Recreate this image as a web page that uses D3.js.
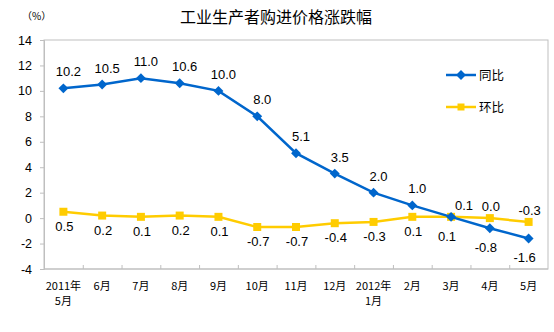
<!DOCTYPE html>
<html><head><meta charset="utf-8">
<script src="https://cdn.jsdelivr.net/npm/d3@7"></script>
<style>
html,body{margin:0;padding:0;background:#fff;}
svg{display:block;font-family:"Liberation Sans","Noto Sans CJK SC",Arial,sans-serif;}
</style></head>
<body><svg id="c" width="554" height="332"></svg>
<script>
// monthly change in purchase prices of industrial producers, %
const months = ["2011年\n5月","6月","7月","8月","9月","10月","11月","12月","2012年\n1月","2月","3月","4月","5月"];
const yoy = [10.2, 10.5, 11.0, 10.6, 10.0, 8.0, 5.1, 3.5, 2.0, 1.0, 0.1, -0.8, -1.6];
const mom = [0.5, 0.2, 0.1, 0.2, 0.1, -0.7, -0.7, -0.4, -0.3, 0.1, 0.1, 0.0, -0.3];
const yTicks = [-4, -2, 0, 2, 4, 6, 8, 10, 12, 14];
const seriesNames = ["同比", "环比"];

const svg = d3.select("#c");
const m = {left: 44, right: 548, top: 40, bottom: 269};
const BLUE = "#0066cc", YELLOW = "#ffcc00";
const CJK = "'Noto Sans CJK SC', sans-serif";
const LATIN = "'Liberation Sans', Arial, sans-serif";

// plain hyphen for negatives
const loc = d3.formatLocale({decimal: ".", thousands: ",", grouping: [3], currency: ["", ""], minus: "-"});
const fmtInt = loc.format("d");
const fmt = loc.format(".1f");

const x = d3.scaleBand().domain(months.map((d, i) => i)).range([m.left, m.right]);
const y = d3.scaleLinear().domain([-4, 14]).range([m.bottom, m.top]);
const cx = i => x(i) + x.bandwidth() / 2;

// plot frame
svg.append("rect").attr("x", m.left).attr("y", m.top)
  .attr("width", m.right - m.left).attr("height", m.bottom - m.top)
  .attr("fill", "none").attr("stroke", "#bfbfbf").attr("stroke-width", 1);

// y axis
const ya = svg.append("g").attr("transform", `translate(${m.left},0)`)
  .call(d3.axisLeft(y).tickValues(yTicks).tickSize(4).tickPadding(8).tickFormat(fmtInt));
ya.select(".domain").attr("stroke", "#bfbfbf");
ya.selectAll(".tick line").attr("stroke", "#bfbfbf");
ya.selectAll(".tick text").attr("font-size", 12.5).attr("fill", "#000").attr("font-family", LATIN);

// x axis: ticks at band boundaries
const xa = svg.append("g").attr("transform", `translate(0,${m.bottom})`);
xa.append("line").attr("x1", m.left).attr("x2", m.right).attr("stroke", "#bfbfbf");
xa.selectAll("line.tk").data(d3.range(1, months.length)).join("line").attr("class", "tk")
  .attr("x1", i => x(i) + 0.5).attr("x2", i => x(i) + 0.5).attr("y1", -4).attr("y2", 0)
  .attr("stroke", "#bfbfbf");
xa.selectAll("text").data(months).join("text")
  .attr("text-anchor", "middle").attr("font-size", 11).attr("fill", "#000")
  .attr("font-family", CJK)
  .each(function(d, i) {
    const parts = d.split("\n");
    d3.select(this).selectAll("tspan").data(parts).join("tspan")
      .attr("x", cx(i)).attr("y", (p, j) => 21 + j * 15).text(p => p);
  });

// title and unit
svg.append("text").attr("x", 276).attr("y", 23).attr("text-anchor", "middle")
  .attr("font-size", 16).attr("font-family", CJK).attr("fill", "#000").text("工业生产者购进价格涨跌幅");
svg.append("text").attr("x", 22).attr("y", 20).attr("font-size", 10)
  .attr("font-family", CJK).attr("fill", "#000").text("（%）");

const line = d3.line().x((d, i) => cx(i)).y(d => y(d));

function drawSeries(vals, color, marker) {
  svg.append("path").datum(vals).attr("d", line).attr("fill", "none")
    .attr("stroke", color).attr("stroke-width", 2.5);
  svg.append("g").selectAll("path").data(vals).join("path")
    .attr("transform", (d, i) => `translate(${cx(i)},${y(d)})` + (marker === "diamond" ? " rotate(45)" : ""))
    .attr("d", marker === "diamond" ? "M-3.5,-3.5H3.5V3.5H-3.5Z" : "M-4,-4H4V4H-4Z")
    .attr("fill", color);
}
drawSeries(mom, YELLOW, "square");
drawSeries(yoy, BLUE, "diamond");

// value labels
const labelG = svg.append("g").attr("font-size", 13).attr("fill", "#000")
  .attr("font-family", LATIN).attr("text-anchor", "middle");
yoy.forEach((v, i) => {
  const above = i < 10;
  labelG.append("text").attr("x", cx(i) + (above ? 5 : -4))
    .attr("y", y(v) + (above ? -12 : 24)).text(fmt(v));
});
mom.forEach((v, i) => {
  const above = i >= 10;
  labelG.append("text").attr("x", cx(i) + (i === 10 ? 13 : 1))
    .attr("y", y(v) + (above ? -7 : 19)).text(fmt(v));
});

// legend
const lg = svg.append("g");
[[seriesNames[0], BLUE, "diamond", 75], [seriesNames[1], YELLOW, "square", 107]].forEach(([name, col, mk, ly]) => {
  lg.append("line").attr("x1", 446).attr("x2", 476).attr("y1", ly).attr("y2", ly)
    .attr("stroke", col).attr("stroke-width", 2.5);
  lg.append("path").attr("transform", `translate(461,${ly})` + (mk === "diamond" ? " rotate(45)" : ""))
    .attr("d", "M-3.5,-3.5H3.5V3.5H-3.5Z").attr("fill", col);
  lg.append("text").attr("x", 479).attr("y", ly + 4.5).attr("font-size", 12.5)
    .attr("font-family", CJK).attr("fill", "#000").text(name);
});
</script></body></html>
